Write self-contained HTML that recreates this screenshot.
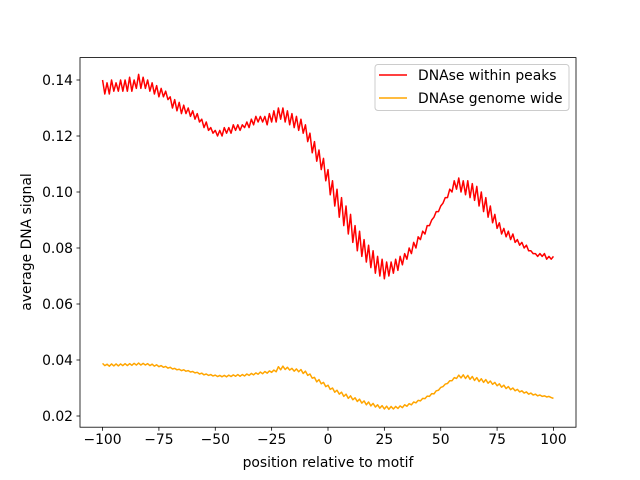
<!DOCTYPE html>
<html><head><meta charset="utf-8"><style>
body{margin:0;background:#fff}
svg{display:block;font-family:"DejaVu Sans","Liberation Sans",sans-serif}
</style></head><body>
<svg id="chart" width="640" height="480">
<rect width="640" height="480" fill="#fff"/>
<g id="lines"></g>
<g id="axes"></g>
</svg>
<script>
const positions=[];for(let i=-100;i<=100;i++)positions.push(i);
const peaksSeries=[
0.140,0.135,0.139,0.135,0.140,0.136,0.139,0.136,0.140,0.136,
0.140,0.136,0.141,0.136,0.140,0.137,0.142,0.137,0.141,0.137,
0.140,0.136,0.139,0.135,0.138,0.134,0.137,0.134,0.136,0.133,
0.134,0.130,0.133,0.129,0.132,0.128,0.131,0.128,0.130,0.127,
0.129,0.126,0.128,0.125,0.126,0.123,0.125,0.122,0.123,0.121,
0.122,0.120,0.122,0.120,0.123,0.121,0.123,0.121,0.124,0.122,
0.124,0.122,0.124,0.123,0.125,0.123,0.126,0.124,0.127,0.125,
0.127,0.125,0.127,0.124,0.128,0.125,0.129,0.125,0.130,0.126,
0.130,0.125,0.129,0.124,0.128,0.123,0.127,0.122,0.126,0.121,
0.124,0.118,0.121,0.114,0.118,0.111,0.115,0.108,0.112,0.104,
0.108,0.099,0.104,0.095,0.101,0.091,0.098,0.088,0.095,0.085,
0.092,0.082,0.088,0.079,0.086,0.077,0.083,0.075,0.081,0.073,
0.079,0.071,0.077,0.070,0.076,0.069,0.075,0.070,0.075,0.071,
0.076,0.072,0.077,0.074,0.078,0.076,0.080,0.078,0.082,0.080,
0.084,0.083,0.086,0.085,0.088,0.088,0.090,0.091,0.093,0.093,
0.095,0.096,0.098,0.098,0.101,0.100,0.104,0.101,0.105,0.100,
0.104,0.099,0.104,0.098,0.103,0.097,0.102,0.095,0.100,0.093,
0.098,0.091,0.095,0.089,0.092,0.087,0.089,0.085,0.087,0.084,
0.086,0.083,0.085,0.082,0.083,0.081,0.082,0.080,0.081,0.079,
0.079,0.078,0.078,0.077,0.078,0.077,0.078,0.076,0.077,0.076,
0.077];
const genomeSeries=[
0.0388,0.0380,0.0385,0.0378,0.0386,0.0379,0.0386,0.0379,0.0386,0.0380,
0.0387,0.0380,0.0387,0.0381,0.0388,0.0382,0.0389,0.0382,0.0388,0.0382,
0.0387,0.0380,0.0385,0.0378,0.0383,0.0376,0.0380,0.0374,0.0377,0.0371,
0.0374,0.0368,0.0370,0.0365,0.0367,0.0362,0.0365,0.0360,0.0362,0.0357,
0.0359,0.0354,0.0356,0.0350,0.0353,0.0347,0.0350,0.0345,0.0348,0.0343,
0.0346,0.0341,0.0345,0.0340,0.0345,0.0340,0.0346,0.0341,0.0347,0.0342,
0.0348,0.0342,0.0348,0.0343,0.0350,0.0345,0.0352,0.0347,0.0354,0.0349,
0.0357,0.0351,0.0359,0.0353,0.0361,0.0356,0.0364,0.0358,0.0376,0.0365,
0.0378,0.0366,0.0374,0.0364,0.0370,0.0360,0.0368,0.0358,0.0366,0.0352,
0.0360,0.0345,0.0350,0.0335,0.0338,0.0322,0.0330,0.0315,0.0320,0.0305,
0.0310,0.0295,0.0300,0.0285,0.0292,0.0278,0.0285,0.0270,0.0278,0.0263,
0.0272,0.0258,0.0265,0.0252,0.0260,0.0246,0.0254,0.0240,0.0250,0.0236,
0.0245,0.0232,0.0240,0.0228,0.0237,0.0225,0.0235,0.0224,0.0234,0.0225,
0.0234,0.0227,0.0236,0.0230,0.0240,0.0235,0.0244,0.0240,0.0250,0.0247,
0.0256,0.0254,0.0263,0.0262,0.0271,0.0270,0.0280,0.0279,0.0290,0.0292,
0.0302,0.0305,0.0314,0.0316,0.0326,0.0326,0.0337,0.0334,0.0346,0.0336,
0.0347,0.0334,0.0345,0.0331,0.0341,0.0327,0.0337,0.0323,0.0333,0.0320,
0.0330,0.0317,0.0325,0.0313,0.0320,0.0308,0.0315,0.0303,0.0310,0.0298,
0.0305,0.0294,0.0300,0.0290,0.0295,0.0286,0.0290,0.0282,0.0286,0.0278,
0.0282,0.0275,0.0278,0.0272,0.0275,0.0270,0.0272,0.0268,0.0270,0.0266,
0.0263];
const xTicks=[-100,-75,-50,-25,0,25,50,75,100];
const yTicks=[0.02,0.04,0.06,0.08,0.10,0.12,0.14];
const yTickLabels=["0.02","0.04","0.06","0.08","0.10","0.12","0.14"];

const L=80,R=576,T=57.6,B=427.2;
const x=v=>L+(v+110)/220*(R-L);
const y=v=>B-(v-0.016)/(0.148-0.016)*(B-T);
const NS="http://www.w3.org/2000/svg";
function mk(tag,attrs,parent){const e=document.createElementNS(NS,tag);for(const k in attrs)e.setAttribute(k,attrs[k]);parent.appendChild(e);return e;}
const lines=document.getElementById('lines'),axes=document.getElementById('axes');
function drawLine(data,color,name){
  const d=data.map((v,i)=>(i?'L':'M')+x(positions[i]).toFixed(2)+' '+y(v).toFixed(2)).join(' ');
  const p=mk('path',{d:d,fill:'none',stroke:color,'stroke-width':1.5,'stroke-linejoin':'round'},lines);
  
  
}
drawLine(peaksSeries,'#ff0000','line-dnase-within-peaks');
drawLine(genomeSeries,'#ffa500','line-dnase-genome-wide');

const frame=mk('rect',{x:L,y:T,width:R-L,height:B-T,fill:'none',stroke:'#000','stroke-width':0.8},axes);


xTicks.forEach(t=>{
  const px=x(t);
  mk('line',{x1:px,x2:px,y1:B,y2:B+3.5,stroke:'#000','stroke-width':0.8},axes);
  const tx=mk('text',{x:px,y:B+17,'text-anchor':'middle','font-size':'13.9px'},axes);
  tx.textContent=t===0?'0':String(t).replace('-','\u2212');
  
  
});
yTicks.forEach((t,i)=>{
  const py=y(t);
  mk('line',{x1:L-3.5,x2:L,y1:py,y2:py,stroke:'#000','stroke-width':0.8},axes);
  const tx=mk('text',{x:L-7,y:py+5,'text-anchor':'end','font-size':'13.9px'},axes);
  tx.textContent=yTickLabels[i];
  
  
});
</script>
<svg style="position:absolute;left:0;top:0" width="640" height="480">
<text x="328" y="467" text-anchor="middle" font-size="13.9px" font-family="DejaVu Sans, sans-serif">position relative to motif</text>
<text transform="translate(31,242) rotate(-90)" text-anchor="middle" font-size="13.9px" font-family="DejaVu Sans, sans-serif">average DNA signal</text>
<g font-family="DejaVu Sans, sans-serif" font-size="13.9px">
<rect x="375" y="64.5" width="194" height="46" rx="3" fill="#fff" fill-opacity="0.8" stroke="#ccc" stroke-width="1"/>
<line x1="379" x2="407" y1="75" y2="75" stroke="#ff0000" stroke-width="1.5"/>
<text x="418" y="80">DNAse within peaks</text>
<line x1="379" x2="407" y1="98" y2="98" stroke="#ffa500" stroke-width="1.5"/>
<text x="418" y="103">DNAse genome wide</text>
</g>
</svg>
</body></html>
